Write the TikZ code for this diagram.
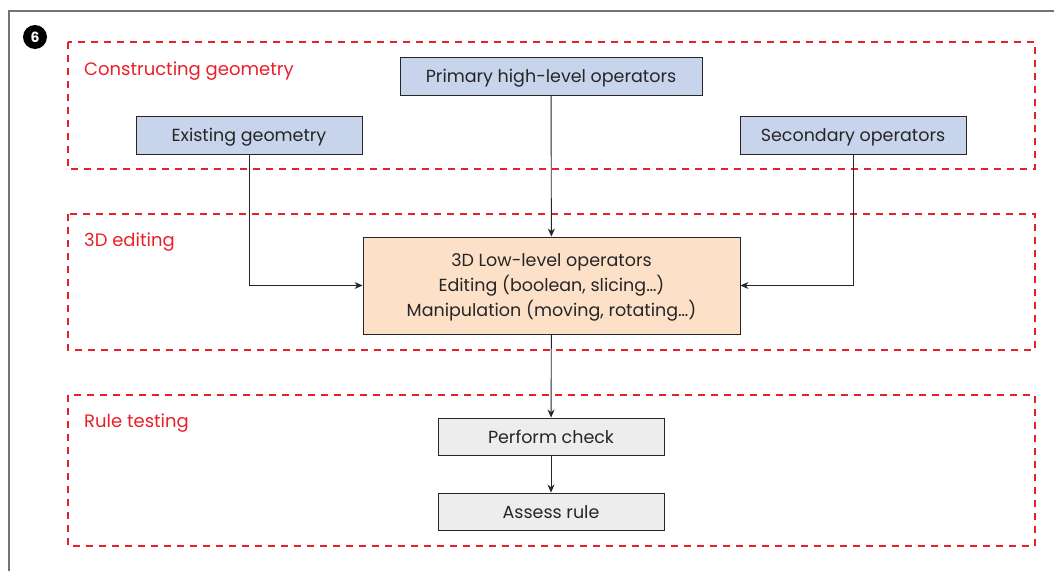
\documentclass[tikz,border=0pt]{standalone}
\usepackage{fontspec}
\setmainfont{Poppins}
\usetikzlibrary{arrows.meta}
\definecolor{zonered}{HTML}{E8202A}
\definecolor{opblue}{HTML}{C8D4EC}
\definecolor{lowfill}{HTML}{FDE0C8}
\definecolor{checkgray}{HTML}{EDEDED}
\definecolor{edgegray}{HTML}{262626}
\begin{document}
\begin{tikzpicture}[x=1pt,y=-1pt,
  zone/.style={draw=zonered,line width=1.3pt,dash pattern=on 7pt off 6pt},
  zonelabel/.style={anchor=west,text=zonered,font=\fontsize{18}{20}\selectfont,inner sep=0pt},
  boxtext/.style={font=\fontsize{17.5}{20}\selectfont,text=black!85,text height=16pt,text depth=3pt},
  opbox/.style={boxtext,draw=edgegray,line width=0.9pt,fill=opblue,minimum height=38pt,inner sep=0pt},
  lowbox/.style={draw=edgegray,line width=0.9pt,fill=lowfill,minimum width=377pt,minimum height=97pt,inner sep=0pt,align=center,font=\fontsize{17.5}{25}\selectfont,text=black!85,text depth=0pt},
  checkbox/.style={boxtext,draw=edgegray,line width=0.9pt,fill=checkgray,minimum width=226pt,minimum height=37pt,inner sep=0pt},
  link/.style={draw=edgegray,line width=0.9pt,-{Stealth[length=8pt,width=7pt]}}
]
\useasboundingbox (0,0) rectangle (1054,570);
% outer frame (left and top sides only)
\draw[black!55,line width=1.2pt] (9,580) -- (9,11) -- (1064,11);
% figure number badge
\node[circle,fill=black,minimum size=24pt,inner sep=0pt,text=white,font=\bfseries\fontsize{14}{15}\selectfont] (badge) at (35,37) {6};

% dashed zones
\draw[zone] (68,42) rectangle (1035,169);
\draw[zone] (68,214) rectangle (1035,350);
\draw[zone] (68,395) rectangle (1035,546);
\node[zonelabel] (zoneA) at (84,71) {Constructing geometry};
\node[zonelabel] (zoneB) at (84,242) {3D editing};
\node[zonelabel] (zoneC) at (84,423) {Rule testing};

% operator boxes
\node[opbox,minimum width=302pt] (primary) at (551,76) {Primary high-level operators};
\node[opbox,minimum width=226pt] (existing) at (249,135) {Existing geometry};
\node[opbox,minimum width=226pt] (secondary) at (853,135) {Secondary operators};
\node[lowbox] (low) at (551.5,285.5) {3D Low-level operators\\Editing (boolean, slicing\dots)\\Manipulation (moving, rotating\dots)};
\node[checkbox] (perform) at (551,436.5) {Perform check};
\node[checkbox] (assess) at (551,511.5) {Assess rule};

% connectors
\draw[link] (primary) -- (low);
\draw[link] (existing.south) |- (low.west);
\draw[link] (secondary.south) |- (low.east);
\draw[link] (low) -- (perform);
\draw[link] (perform) -- (assess);
\end{tikzpicture}
\end{document}
